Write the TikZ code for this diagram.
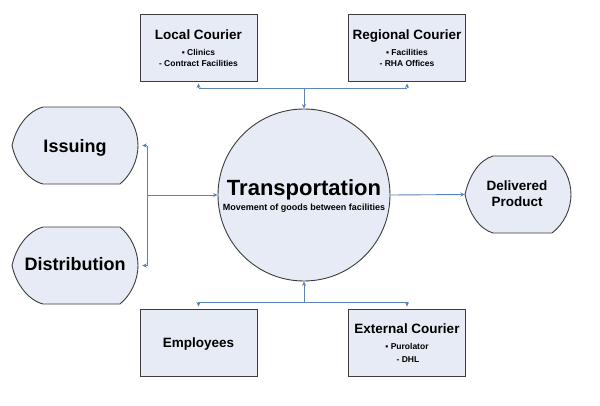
\documentclass[tikz,border=0pt]{standalone}
\usepackage{fontspec}
\setmainfont{Liberation Sans}
\usetikzlibrary{arrows.meta}
\definecolor{fillc}{HTML}{E6EBF5}
\definecolor{linec}{HTML}{5A84B8}
\definecolor{edgec}{HTML}{3C3C3C}
\begin{document}
\begin{tikzpicture}[x=1pt,y=-1pt,
  box/.style={draw=edgec, fill=fillc, line width=0.9pt, minimum width=117pt, minimum height=67pt, inner sep=0pt},
  leaf/.style={draw=edgec, fill=fillc, line width=0.9pt},
  area/.style={inner sep=0pt, draw=none},
  title/.style={font=\bfseries\fontsize{13.5}{14}\selectfont, anchor=base, inner sep=0pt},
  sub/.style={font=\bfseries\fontsize{8.5}{9}\selectfont, anchor=base, inner sep=0pt},
  big/.style={font=\bfseries\fontsize{18}{20}\selectfont, anchor=base, inner sep=0pt},
  conn/.style={draw=linec, line width=0.9pt},
  arr/.style={conn, -{Stealth[length=4.5pt,width=4pt]}}]
\useasboundingbox[fill=white] (0,0) rectangle (600,405);

% boxes
\node[box] (lc) at (198.5,47.5) {};
\node[box] (rc) at (407,47.5) {};
\node[box] (emp) at (198.5,342.5) {};
\node[box] (ec) at (407,342.5) {};

% central circle
\node[circle, draw=edgec, fill=fillc, line width=0.9pt, minimum size=172pt, inner sep=0pt] (tr) at (304,195) {};

% leaf shapes
\path[leaf] (12,145.5) .. controls (16,127) and (28,111) .. (43,107) -- (120,107)
  .. controls (131,116) and (138,131) .. (138,145.5)
  .. controls (138,160) and (131,175) .. (120,184) -- (43,184)
  .. controls (28,180) and (16,164) .. cycle;
\path[leaf] (12,265.5) .. controls (16,247) and (28,231) .. (43,227) -- (120,227)
  .. controls (131,236) and (138,251) .. (138,265.5)
  .. controls (138,280) and (131,295) .. (120,304) -- (43,304)
  .. controls (28,300) and (16,284) .. cycle;
\path[leaf] (465,194.5) .. controls (469,176) and (479,160) .. (493,156) -- (552,156)
  .. controls (564,165) and (571,180) .. (571,194.5)
  .. controls (571,209) and (564,224) .. (552,233) -- (493,233)
  .. controls (479,229) and (469,213) .. cycle;
\node[area, minimum width=126pt, minimum height=77pt] (iss) at (75,145.5) {};
\node[area, minimum width=126pt, minimum height=77pt] (dist) at (75,265.5) {};
\node[area, minimum width=106pt, minimum height=77pt] (del) at (518,194.5) {};

% texts
\node[title] (lct) at (198.5,39) {Local Courier};
\node[sub] (lc1) at (198.5,55) {▪ Clinics};
\node[sub] (lc2) at (198.5,66) {- Contract Facilities};
\node[title] (rct) at (407,39) {Regional Courier};
\node[sub] (rc1) at (407,55) {▪ Facilities};
\node[sub] (rc2) at (407,66) {- RHA Offices};
\node[title] (empt) at (198.5,347) {Employees};
\node[title] (ect) at (407,333) {External Courier};
\node[sub] (ec1) at (407,349) {▪ Purolator};
\node[sub] (ec2) at (408,362) {- DHL};
\node[font=\bfseries\fontsize{22}{24}\selectfont, anchor=base, inner sep=0pt] (trt) at (304,195) {Transportation};
\node[font=\bfseries\fontsize{9}{10}\selectfont, anchor=base, inner sep=0pt] (trs) at (304,210.5) {Movement of goods between facilities};
\node[big] (isst) at (75,152) {Issuing};
\node[big] (distt) at (75,270) {Distribution};
\node[title] (delt1) at (517,190.5) {Delivered};
\node[title] (delt2) at (517,206) {Product};

% connectors top
\coordinate (tj) at (303,88);
\draw[conn] (lc.south |- tj) -- (rc.south |- tj);
\draw[arr, shorten >=2pt] (lc.south |- tj) -- (lc.south);
\draw[arr, shorten >=2pt] (rc.south |- tj) -- (rc.south);
\draw[arr] (tr.north |- tj) -- (tr.north);

% connectors bottom
\coordinate (bj) at (303,302);
\draw[conn] (emp.north |- bj) -- (ec.north |- bj);
\draw[arr, shorten >=2pt] (emp.north |- bj) -- (emp.north);
\draw[arr, shorten >=2pt] (ec.north |- bj) -- (ec.north);
\draw[arr] (tr.south |- bj) -- (tr.south);

% connectors left
\coordinate (lj) at (147,195);
\draw[conn] (lj |- iss.east) -- (lj |- dist.east);
\draw[arr, shorten >=4pt] (lj |- iss.east) -- (iss.east);
\draw[arr, shorten >=4pt] (lj |- dist.east) -- (dist.east);
\draw[arr] (lj) -- (tr.west);

% connector right
\draw[arr] (tr.east) -- (del.west);
\end{tikzpicture}
\end{document}
